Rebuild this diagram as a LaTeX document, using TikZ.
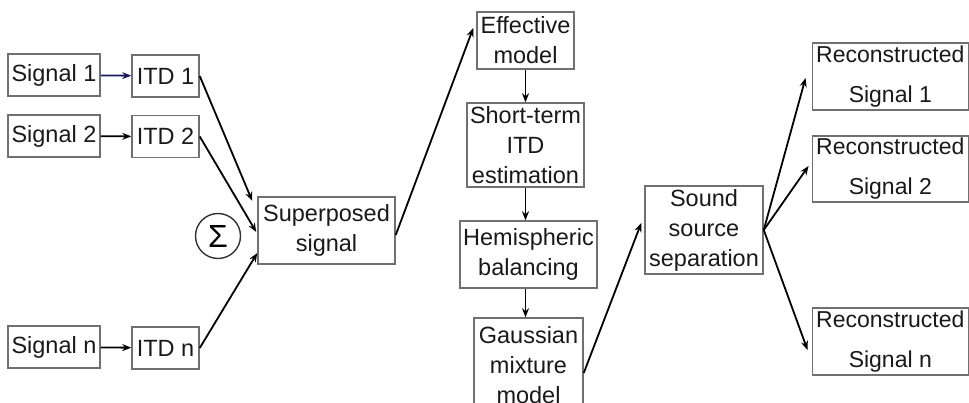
\documentclass[tikz,border=0pt]{standalone}
\usepackage{fontspec}
\setmainfont{Liberation Sans}
\usetikzlibrary{arrows.meta}
\definecolor{boxgray}{HTML}{707070}
\definecolor{navyarrow}{HTML}{1B1B5C}
\tikzstyle{block}=[draw=boxgray, line width=1.5pt, inner sep=0pt, align=center, text=black!90, font=\fontsize{23.5}{30}\selectfont]
\tikzstyle{recblock}=[block, font=\fontsize{23}{40}\selectfont]
\tikzstyle{flow}=[line width=1.8pt, -{Stealth[length=9pt,width=7pt]}]

\begin{document}
\begin{tikzpicture}[x=1pt, y=-1pt]
  \useasboundingbox (0,0) rectangle (969,403);
  \clip (0,0) rectangle (969,403);

  \node[block, minimum width=92pt, minimum height=42pt] (sig1) at (54,75) {Signal 1};
  \node[block, minimum width=92pt, minimum height=42pt] (sig2) at (54,136) {Signal 2};
  \node[block, minimum width=92pt, minimum height=42pt] (sign) at (54,347) {Signal n};
  \node[block, minimum width=67pt, minimum height=42pt] (itd1) at (165.5,76) {ITD 1};
  \node[block, minimum width=67pt, minimum height=42pt] (itd2) at (165.5,136.5) {ITD 2};
  \node[block, minimum width=67pt, minimum height=42pt] (itdn) at (165.5,348) {ITD n};
  \node[circle, draw=black!80, line width=1.4pt, minimum size=45pt, inner sep=0pt,
        font=\fontsize{32}{32}\selectfont] (sum) at (218,236) {Σ};
  \node[block, minimum width=137pt, minimum height=67pt] (sup) at (326.5,230.5) {Superposed\\signal};

  \node[block, minimum width=97pt, minimum height=57pt] (eff) at (525.5,40.5) {Effective\\model};
  \node[block, minimum width=117pt, minimum height=84pt] (stest) at (525.5,145) {Short-term\\ITD\\estimation};
  \node[block, minimum width=137pt, minimum height=67pt] (hemi) at (528.5,254.5) {Hemispheric\\balancing};
  \node[block, minimum width=109pt, minimum height=94pt] (gauss) at (528.5,365) {Gaussian\\mixture\\model};

  \node[block, minimum width=118pt, minimum height=88pt] (sound) at (704,230) {Sound\\source\\separation};
  \node[recblock, minimum width=156pt, minimum height=67pt] (rec1) at (890.3,76.5) {Reconstructed\\Signal 1};
  \node[recblock, minimum width=156pt, minimum height=66pt] (rec2) at (890.3,169) {Reconstructed\\Signal 2};
  \node[recblock, minimum width=156pt, minimum height=67pt] (recn) at (890.3,341.5) {Reconstructed\\Signal n};

  \draw[flow, draw=navyarrow] (sig1) -- (itd1);
  \draw[flow] (sig2) -- (itd2);
  \draw[flow] (sign) -- (itdn);
  \draw[flow] (itd1.east) -- ([xshift=-5pt, yshift=29.5pt]sup.west);
  \draw[flow] (itd2.east) -- ([xshift=-1pt, yshift=-1.5pt]sup.west);
  \draw[flow] (itdn.east) -- ([yshift=-22.5pt]sup.west);
  \draw[flow] ([yshift=-4.5pt]sup.east) -- ([xshift=-3pt, yshift=12.5pt]eff.west);
  \draw[flow] (eff) -- (stest);
  \draw[flow] (stest) -- (stest |- hemi.north);
  \draw[flow] (hemi.south -| stest) -- (stest |- gauss.north);
  \draw[flow] ([yshift=-8pt]gauss.east) -- ([xshift=-3pt, yshift=7pt]sound.west);
  \draw[flow] (sound.east) -- ([xshift=-6pt, yshift=-1.5pt]rec1.west);
  \draw[flow] (sound.east) -- ([xshift=-3pt, yshift=3pt]rec2.west);
  \draw[flow] (sound.east) -- ([xshift=-4pt, yshift=-8.5pt]recn.west);
\end{tikzpicture}
\end{document}
